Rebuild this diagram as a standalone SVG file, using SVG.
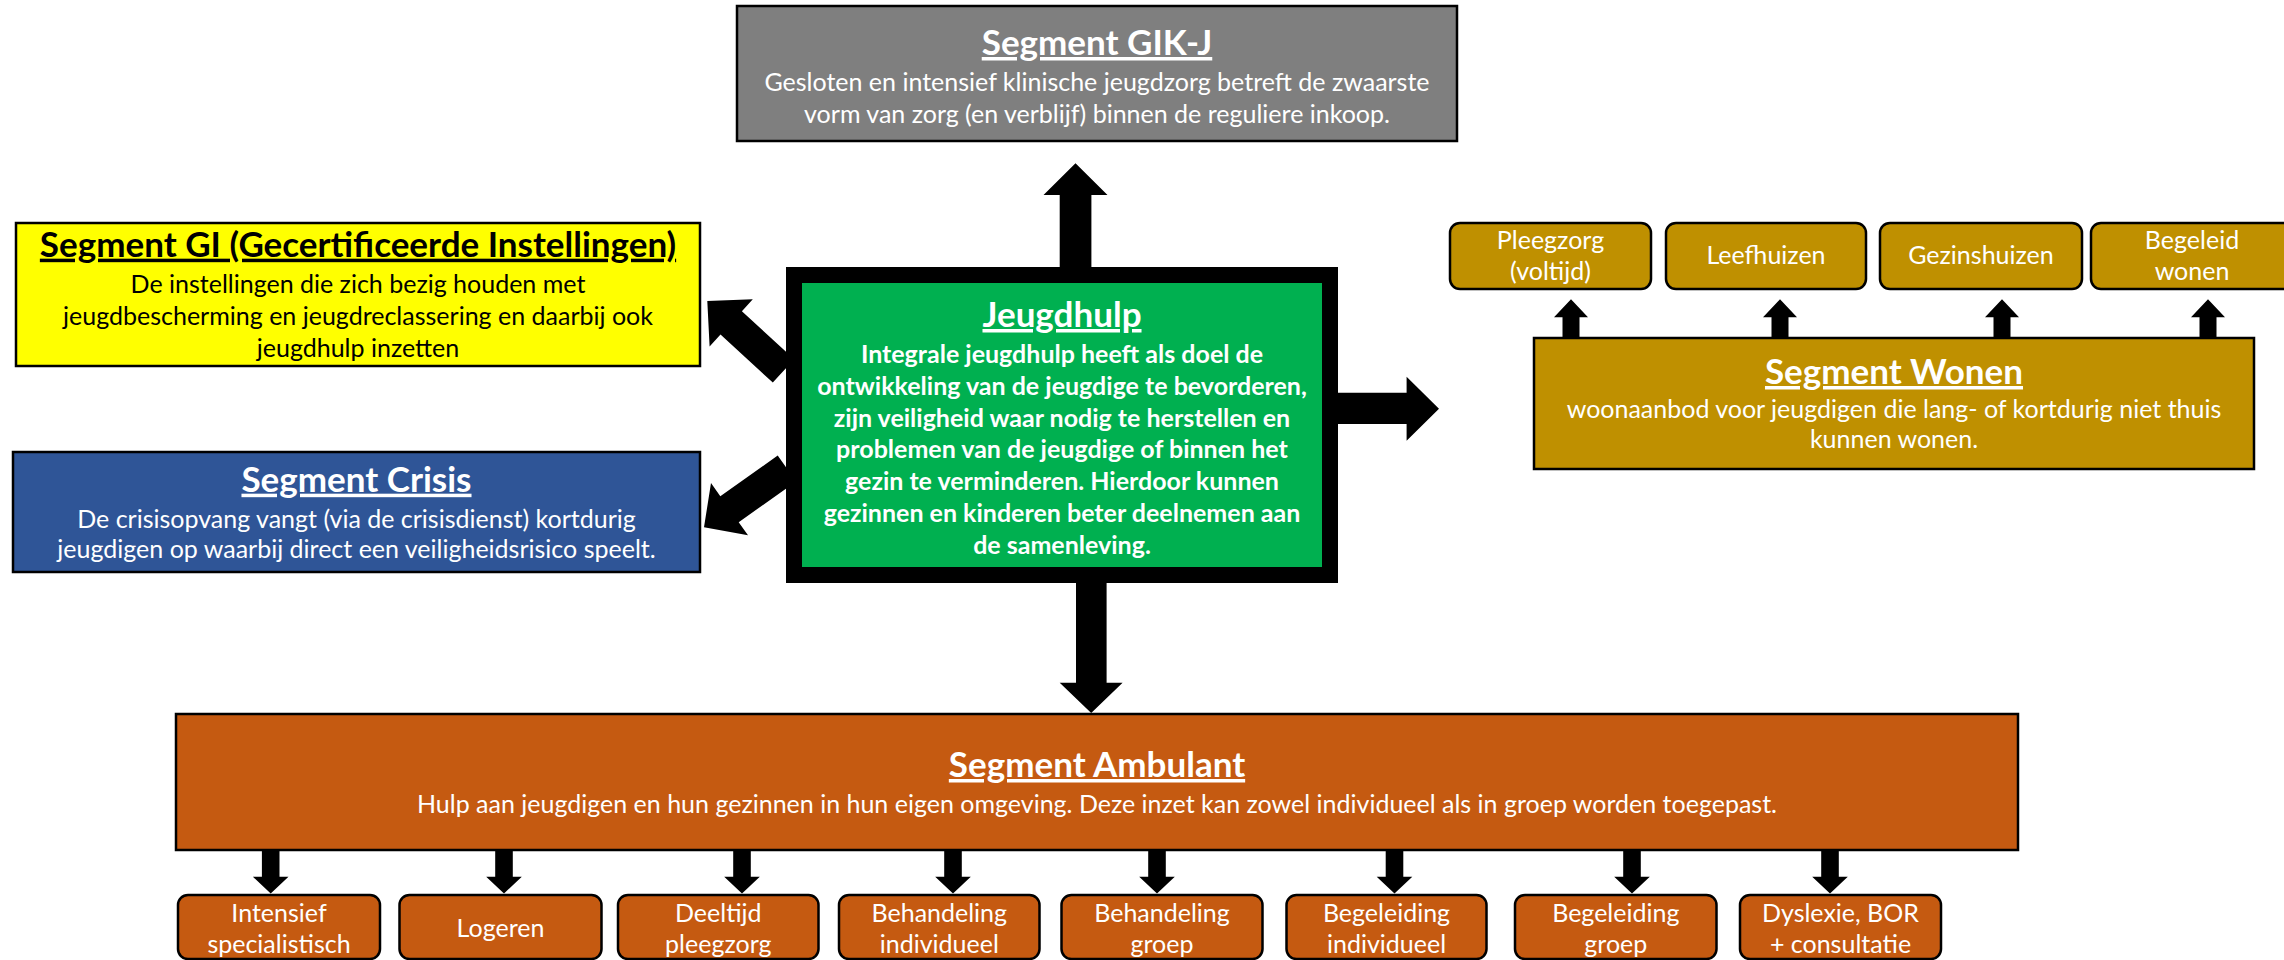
<svg xmlns="http://www.w3.org/2000/svg" width="2284" height="960" viewBox="0 0 2284 960">
<style>
  text { font-family: Lato, "Liberation Sans", sans-serif; text-anchor: middle; }
  .t { font-size: 35px; font-weight: 700; text-decoration: underline; }
  .b { font-size: 25px; }
  .jb { font-size: 25px; font-weight: 700; }
  .w { fill: #fff; }
  .k { fill: #000; }
  .box { stroke: #000; stroke-width: 2.5; }
  .arrow { fill: #000; stroke: none; }
</style>
<rect width="2284" height="960" fill="#fff"/>
<g id="connectors" class="arrow">
  <polygon points="1059.7,275 1059.7,195 1043.5,195 1075.5,163.3 1107.5,195 1091.4,195 1091.4,275"/>
  <polygon points="1076,580 1076,682.7 1059.7,682.7 1091.2,713 1122.6,682.7 1106.6,682.7 1106.6,580"/>
  <polygon points="1330,392.7 1406.6,392.7 1406.6,376.7 1439,408.7 1406.6,440.7 1406.6,424 1330,424"/>
  <polygon points="772.8,382.6 720.5,334.6 709.6,346.5 707.3,301 752.8,299.3 741.9,311.2 794.2,359.2"/>
  <polygon points="777.7,455.5 720.3,496.2 711,483.1 704,527.3 748,535.3 738.7,522.2 796.1,481.4"/>
  <polygon points="1562.5,338 1562.5,317.3 1554,317.3 1571,299.3 1588,317.3 1579.5,317.3 1579.5,338"/>
  <polygon points="1771.5,338 1771.5,317.3 1763,317.3 1780,299.3 1797,317.3 1788.5,317.3 1788.5,338"/>
  <polygon points="1993.5,338 1993.5,317.3 1985,317.3 2002,299.3 2019,317.3 2010.5,317.3 2010.5,338"/>
  <polygon points="2199.5,338 2199.5,317.3 2191,317.3 2208,299.3 2225,317.3 2216.5,317.3 2216.5,338"/>
  <polygon points="261.9,851 261.9,876.7 252.9,876.7 270.7,893.5 288.5,876.7 279.5,876.7 279.5,851"/>
  <polygon points="495.2,851 495.2,876.7 486.2,876.7 504,893.5 521.8,876.7 512.8,876.7 512.8,851"/>
  <polygon points="733.2,851 733.2,876.7 724.2,876.7 742,893.5 759.8,876.7 750.8,876.7 750.8,851"/>
  <polygon points="944.2,851 944.2,876.7 935.2,876.7 953,893.5 970.8,876.7 961.8,876.7 961.8,851"/>
  <polygon points="1148.2,851 1148.2,876.7 1139.2,876.7 1157,893.5 1174.8,876.7 1165.8,876.7 1165.8,851"/>
  <polygon points="1385.7,851 1385.7,876.7 1376.7,876.7 1394.5,893.5 1412.3,876.7 1403.3,876.7 1403.3,851"/>
  <polygon points="1623.2,851 1623.2,876.7 1614.2,876.7 1632,893.5 1649.8,876.7 1640.8,876.7 1640.8,851"/>
  <polygon points="1821.2,851 1821.2,876.7 1812.2,876.7 1830,893.5 1847.8,876.7 1838.8,876.7 1838.8,851"/>
</g>
<g id="gikj">
  <rect class="box" x="737" y="6" width="720" height="135" fill="#7F7F7F"/>
  <text class="t w" x="1097" y="55">Segment GIK-J</text>
  <text class="b w" x="1097" y="90.5">Gesloten en intensief klinische jeugdzorg betreft de zwaarste</text>
  <text class="b w" x="1097" y="123">vorm van zorg (en verblijf) binnen de reguliere inkoop.</text>
</g>
<g id="gi">
  <rect class="box" x="16" y="223" width="684" height="143" fill="#FFFF00"/>
  <text class="t k" x="358" y="256.7">Segment GI (Gecertificeerde Instellingen)</text>
  <text class="b k" x="358" y="293.3">De instellingen die zich bezig houden met</text>
  <text class="b k" x="358" y="325">jeugdbescherming en jeugdreclassering en daarbij ook</text>
  <text class="b k" x="358" y="356.7">jeugdhulp inzetten</text>
</g>
<g id="crisis">
  <rect class="box" x="13" y="452" width="687" height="120" fill="#2F5597"/>
  <text class="t w" x="356.5" y="491.7">Segment Crisis</text>
  <text class="b w" x="356.5" y="528.3">De crisisopvang vangt (via de crisisdienst) kortdurig</text>
  <text class="b w" x="356.5" y="558.3">jeugdigen op waarbij direct een veiligheidsrisico speelt.</text>
</g>
<g id="jeugdhulp">
  <rect x="794" y="275" width="536" height="300" fill="#00B050" stroke="#000" stroke-width="16"/>
  <text class="t w" x="1062" y="327">Jeugdhulp</text>
  <text class="jb w" x="1062" y="362.7">Integrale jeugdhulp heeft als doel de</text>
  <text class="jb w" x="1062" y="395">ontwikkeling van de jeugdige te bevorderen,</text>
  <text class="jb w" x="1062" y="426.7">zijn veiligheid waar nodig te herstellen en</text>
  <text class="jb w" x="1062" y="458">problemen van de jeugdige of binnen het</text>
  <text class="jb w" x="1062" y="490">gezin te verminderen. Hierdoor kunnen</text>
  <text class="jb w" x="1062" y="521.7">gezinnen en kinderen beter deelnemen aan</text>
  <text class="jb w" x="1062" y="554">de samenleving.</text>
</g>
<g id="wonen">
  <rect class="box" x="1534" y="338" width="720" height="131" fill="#BF9000"/>
  <text class="t w" x="1894" y="384">Segment Wonen</text>
  <text class="b w" x="1894" y="418.3">woonaanbod voor jeugdigen die lang- of kortdurig niet thuis</text>
  <text class="b w" x="1894" y="448.3">kunnen wonen.</text>
</g>
<g id="pleegzorg-voltijd">
  <rect class="box" x="1450" y="223" width="201" height="66" rx="10" fill="#BF9000"/>
  <text class="b w" x="1550.5" y="249">Pleegzorg</text>
  <text class="b w" x="1550.5" y="280">(voltijd)</text>
</g>
<g id="leefhuizen">
  <rect class="box" x="1666" y="223" width="200" height="66" rx="10" fill="#BF9000"/>
  <text class="b w" x="1766" y="264">Leefhuizen</text>
</g>
<g id="gezinshuizen">
  <rect class="box" x="1880" y="223" width="202" height="66" rx="10" fill="#BF9000"/>
  <text class="b w" x="1981" y="264">Gezinshuizen</text>
</g>
<g id="begeleid-wonen">
  <rect class="box" x="2091" y="223" width="202" height="66" rx="10" fill="#BF9000"/>
  <text class="b w" x="2192" y="249">Begeleid</text>
  <text class="b w" x="2192" y="280">wonen</text>
</g>
<g id="ambulant">
  <rect class="box" x="176" y="714" width="1842" height="136" fill="#C55A11"/>
  <text class="t w" x="1097" y="777">Segment Ambulant</text>
  <text class="b w" x="1097" y="813">Hulp aan jeugdigen en hun gezinnen in hun eigen omgeving. Deze inzet kan zowel individueel als in groep worden toegepast.</text>
</g>
<g id="intensief-specialistisch">
  <rect class="box" x="178" y="895" width="202" height="64" rx="10" fill="#C55A11"/>
  <text class="b w" x="279" y="921.7">Intensief</text>
  <text class="b w" x="279" y="953">specialistisch</text>
</g>
<g id="logeren">
  <rect class="box" x="399.5" y="895" width="202" height="64" rx="10" fill="#C55A11"/>
  <text class="b w" x="500.5" y="936.7">Logeren</text>
</g>
<g id="deeltijd-pleegzorg">
  <rect class="box" x="618" y="895" width="200.5" height="64" rx="10" fill="#C55A11"/>
  <text class="b w" x="718.3" y="921.7">Deeltijd</text>
  <text class="b w" x="718.3" y="953">pleegzorg</text>
</g>
<g id="behandeling-individueel">
  <rect class="box" x="839" y="895" width="200.5" height="64" rx="10" fill="#C55A11"/>
  <text class="b w" x="939.3" y="921.7">Behandeling</text>
  <text class="b w" x="939.3" y="953">individueel</text>
</g>
<g id="behandeling-groep">
  <rect class="box" x="1061.5" y="895" width="201" height="64" rx="10" fill="#C55A11"/>
  <text class="b w" x="1162" y="921.7">Behandeling</text>
  <text class="b w" x="1162" y="953">groep</text>
</g>
<g id="begeleiding-individueel">
  <rect class="box" x="1286.5" y="895" width="200" height="64" rx="10" fill="#C55A11"/>
  <text class="b w" x="1386.5" y="921.7">Begeleiding</text>
  <text class="b w" x="1386.5" y="953">individueel</text>
</g>
<g id="begeleiding-groep">
  <rect class="box" x="1515" y="895" width="201.5" height="64" rx="10" fill="#C55A11"/>
  <text class="b w" x="1615.8" y="921.7">Begeleiding</text>
  <text class="b w" x="1615.8" y="953">groep</text>
</g>
<g id="dyslexie-bor-consultatie">
  <rect class="box" x="1740" y="895" width="201" height="64" rx="10" fill="#C55A11"/>
  <text class="b w" x="1840.5" y="921.7">Dyslexie, BOR</text>
  <text class="b w" x="1840.5" y="953">+ consultatie</text>
</g>
</svg>
